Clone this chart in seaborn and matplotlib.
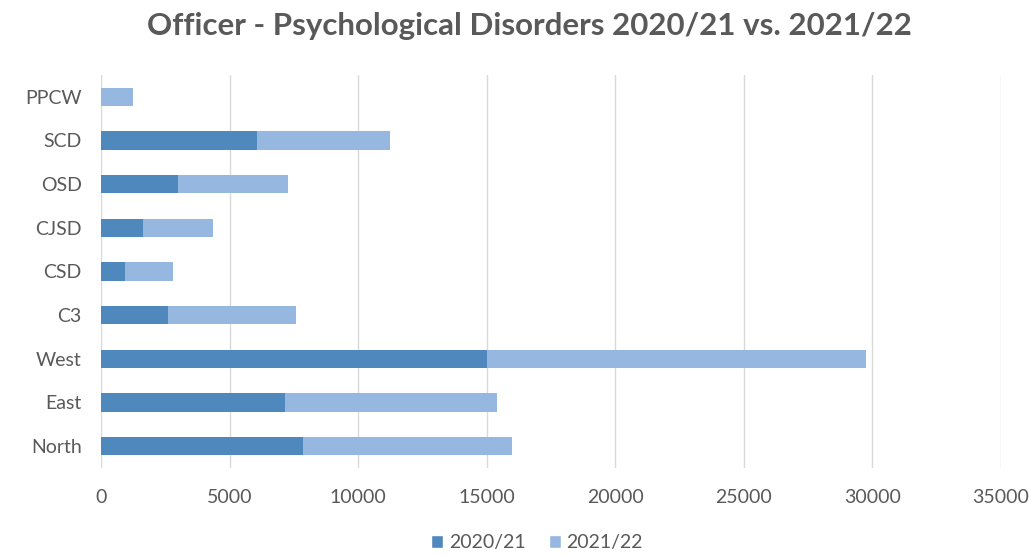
import matplotlib
matplotlib.use("Agg")
import matplotlib.pyplot as plt
from matplotlib.patches import Patch
import seaborn as sns
import pandas as pd

categories = ["PPCW", "SCD", "OSD", "CJSD", "CSD", "C3", "West", "East", "North"]
y2020_21 = [0, 6055, 2980, 1650, 925, 2605, 15000, 7135, 7860]
y2021_22 = [1225, 5195, 4285, 2710, 1860, 4960, 14760, 8280, 8110]
x_ticks = [0, 5000, 10000, 15000, 20000, 25000, 30000, 35000]
series_names = ["2020/21", "2021/22"]

dark = "#4F88BD"
light = "#96B8E0"
text_gray = "#595959"

sns.set_theme(style="white")
plt.rcParams["font.family"] = ["Lato", "DejaVu Sans"]

df = pd.DataFrame({"cat": categories, "a": y2020_21, "b": y2021_22})
df["total"] = df["a"] + df["b"]

fig = plt.figure(figsize=(10.29, 5.55), dpi=100)
ax = fig.add_axes([0.0982, 0.157, 0.8746, 0.708])

# stacked bars: full total in the light colour, 2020/21 share drawn over it
sns.barplot(data=df, x="total", y="cat", order=categories, color=light,
            width=0.42, saturation=1, linewidth=0, ax=ax, zorder=2)
sns.barplot(data=df, x="a", y="cat", order=categories, color=dark,
            width=0.42, saturation=1, linewidth=0, ax=ax, zorder=3)

ax.set_xlim(0, 35000)
ax.set_xticks(x_ticks)
ax.set_xticklabels([str(t) for t in x_ticks])
ax.set_xlabel("")
ax.set_ylabel("")
ax.grid(axis="x", color="#D9D9D9", linewidth=1.0, zorder=0)
ax.set_axisbelow(True)
for s in ax.spines.values():
    s.set_visible(False)
ax.tick_params(axis="both", length=0, labelsize=14, colors=text_gray)
ax.tick_params(axis="x", pad=15)
ax.tick_params(axis="y", pad=14)

fig.suptitle("Officer - Psychological Disorders 2020/21 vs. 2021/22",
             x=0.515, y=0.978, fontsize=22.5, fontweight="bold", color=text_gray)

handles = [Patch(facecolor=dark, label=series_names[0]),
           Patch(facecolor=light, label=series_names[1])]
fig.legend(handles=handles, loc="lower center", bbox_to_anchor=(0.522, -0.025),
           ncol=2, frameon=False, fontsize=14, labelcolor=text_gray,
           handlelength=0.6, handleheight=0.6, handletextpad=0.3,
           columnspacing=1.2)

fig.savefig("out.png", dpi=100)
